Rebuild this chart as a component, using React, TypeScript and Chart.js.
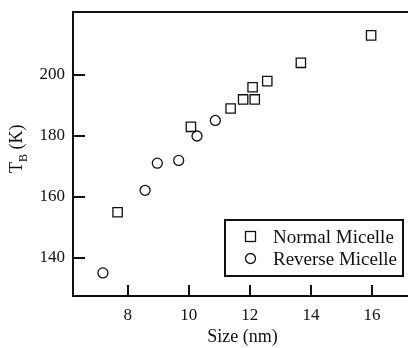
import React, { useEffect, useRef } from 'react';
import { Chart, registerables } from 'chart.js';

Chart.register(...registerables);

// ---- data ----
const seriesNames = ['Normal Micelle', 'Reverse Micelle'];
const normalSize = [7.67, 10.07, 11.37, 11.78, 12.16, 12.09, 12.57, 13.67, 15.97];
const normalTB = [155, 183, 189, 192, 192, 196, 198, 204, 213];
const reverseSize = [7.19, 8.57, 8.97, 9.67, 10.27, 10.87];
const reverseTB = [135.1, 162.2, 171.1, 172, 180, 185.1];
const xTickValues = [8, 10, 12, 14, 16];
const yTickValues = [140, 160, 180, 200];
const xTitle = 'Size (nm)';
const yTitleMain = 'T';
const yTitleSub = 'B';
const yTitleUnit = ' (K)';

const FONT = '"Liberation Serif", "Times New Roman", serif';
const INK = '#111';

export default function App() {
  const ref = useRef<HTMLCanvasElement>(null);

  useEffect(() => {
    if (!ref.current) return;

    const framePlugin = {
      id: 'framePlugin',
      afterDatasetsDraw(chart: any) {
        const ctx = chart.ctx as CanvasRenderingContext2D;
        const { left, right, top, bottom } = chart.chartArea;
        const xs = chart.scales.x;
        const ys = chart.scales.y;
        ctx.save();
        ctx.strokeStyle = INK;
        ctx.lineWidth = 2;
        ctx.strokeRect(left, top, right - left, bottom - top);
        // inward tick marks
        ctx.beginPath();
        xTickValues.forEach((v) => {
          const px = Math.round(xs.getPixelForValue(v));
          ctx.moveTo(px, bottom);
          ctx.lineTo(px, bottom - 11);
        });
        yTickValues.forEach((v) => {
          const py = Math.round(ys.getPixelForValue(v));
          ctx.moveTo(left, py);
          ctx.lineTo(left + 12, py);
        });
        ctx.stroke();

        // x title
        ctx.fillStyle = INK;
        ctx.font = `18px ${FONT}`;
        ctx.textAlign = 'center';
        ctx.textBaseline = 'alphabetic';
        ctx.fillText(xTitle, 242.5, 342);

        // y title with subscript
        ctx.save();
        ctx.translate(22, 173);
        ctx.rotate(-Math.PI / 2);
        ctx.textAlign = 'left';
        ctx.font = `18px ${FONT}`;
        ctx.fillText(yTitleMain, 0, 0);
        const wT = ctx.measureText(yTitleMain).width;
        ctx.font = `12px ${FONT}`;
        ctx.fillText(yTitleSub, wT, 5);
        const wB = ctx.measureText(yTitleSub).width;
        ctx.font = `18px ${FONT}`;
        ctx.fillText(yTitleUnit, wT + wB, 0);
        ctx.restore();

        // legend
        const bx = 225, by = 220, bw = 178, bh = 56;
        ctx.fillStyle = '#fff';
        ctx.fillRect(bx, by, bw, bh);
        ctx.lineWidth = 2;
        ctx.strokeStyle = INK;
        ctx.strokeRect(bx, by, bw, bh);
        ctx.lineWidth = 1.3;
        ctx.strokeRect(245.5, 231.5, 10, 10);
        ctx.beginPath();
        ctx.arc(250.5, 258.5, 5, 0, Math.PI * 2);
        ctx.stroke();
        ctx.fillStyle = INK;
        ctx.font = `19px ${FONT}`;
        ctx.textAlign = 'left';
        ctx.fillText(seriesNames[0], 273, 243);
        ctx.fillText(seriesNames[1], 273, 265);
        ctx.restore();
      },
    };

    const chart = new Chart(ref.current, {
      type: 'scatter',
      data: {
        datasets: [
          {
            label: seriesNames[0],
            data: normalSize.map((x, i) => ({ x, y: normalTB[i] })),
            pointStyle: 'rect',
            pointRadius: 6.6,
            borderColor: INK,
            backgroundColor: 'rgba(0,0,0,0)',
            borderWidth: 1.3,
          },
          {
            label: seriesNames[1],
            data: reverseSize.map((x, i) => ({ x, y: reverseTB[i] })),
            pointStyle: 'circle',
            pointRadius: 5,
            borderColor: INK,
            backgroundColor: 'rgba(0,0,0,0)',
            borderWidth: 1.3,
          },
        ],
      },
      options: {
        responsive: true,
        maintainAspectRatio: false,
        animation: false,
        devicePixelRatio: 1,
        layout: { autoPadding: false, padding: { top: 12, right: 3, left: 0, bottom: 0 } },
        plugins: {
          legend: { display: false },
          tooltip: { enabled: false },
        },
        scales: {
          x: {
            type: 'linear',
            min: 6.21,
            max: 17.21,
            grid: { display: false, drawTicks: false },
            border: { display: false },
            ticks: { font: { family: FONT, size: 17 }, color: INK, padding: 9 },
            afterBuildTicks: (s: any) => {
              s.ticks = xTickValues.map((v) => ({ value: v }));
            },
            afterFit: (s: any) => {
              s.height = 52;
              s.paddingLeft = 0;
              s.paddingRight = 0;
            },
          },
          y: {
            type: 'linear',
            min: 127.54,
            max: 220.66,
            grid: { display: false, drawTicks: false },
            border: { display: false },
            ticks: { font: { family: FONT, size: 17 }, color: INK, padding: 8 },
            afterBuildTicks: (s: any) => {
              s.ticks = yTickValues.map((v) => ({ value: v }));
            },
            afterFit: (s: any) => {
              s.width = 73;
              s.paddingTop = 0;
              s.paddingBottom = 0;
            },
          },
        },
      },
      plugins: [framePlugin],
    } as any);

    return () => chart.destroy();
  }, []);

  return (
    <div
      style={{
        position: 'fixed',
        left: 0,
        top: 0,
        width: 408,
        height: 348,
        overflow: 'hidden',
        background: '#fff',
      }}
    >
      <div style={{ position: 'absolute', left: 0, top: 0, width: 412, height: 348 }}>
        <canvas ref={ref} style={{ display: 'block' }} />
      </div>
    </div>
  );
}
